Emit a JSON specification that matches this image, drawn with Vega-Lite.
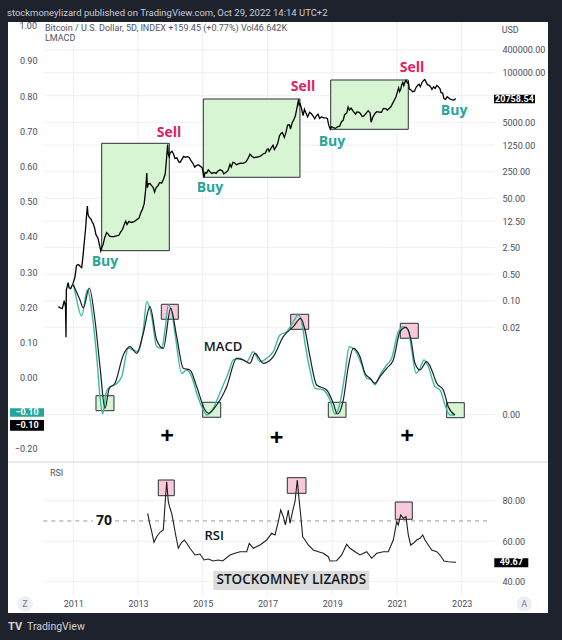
{
"$schema": "https://vega.github.io/schema/vega-lite/v6.json",
"width": 540, "height": 591,
"autosize": {"type": "none"},
"padding": {"left": 8, "top": 22, "right": 14, "bottom": 27},
"background": "#1e222d",
"config": {"view": {"fill": "#ffffff", "stroke": null}, "font": "Roboto"},
"datasets": {
"price": [
{"t":2010.54,"p":0.07},{"t":2010.60,"p":0.065},{"t":2010.66,"p":0.062},{"t":2010.72,"p":0.1},{"t":2010.76,"p":0.07},{"t":2010.775,"p":0.011},{"t":2010.785,"p":0.19},{"t":2010.84,"p":0.3},{"t":2010.87,"p":0.22},{"t":2010.92,"p":0.21},{"t":2010.97,"p":0.26},
{"t":2011.00,"p":0.30},{"t":2011.05,"p":0.42},{"t":2011.10,"p":0.85},{"t":2011.16,"p":0.90},{"t":2011.22,"p":0.80},{"t":2011.26,"p":0.75},{"t":2011.30,"p":1.5},{"t":2011.34,"p":3.5},{"t":2011.38,"p":8},{"t":2011.41,"p":18},{"t":2011.435,"p":31},{"t":2011.45,"p":20},{"t":2011.47,"p":17},{"t":2011.50,"p":15.5},{"t":2011.55,"p":14},{"t":2011.58,"p":12},{"t":2011.62,"p":10.5},{"t":2011.66,"p":8.2},{"t":2011.70,"p":5.5},{"t":2011.76,"p":4.5},{"t":2011.80,"p":3.2},{"t":2011.85,"p":2.05},{"t":2011.88,"p":2.5},{"t":2011.92,"p":3.0},{"t":2011.97,"p":4.6},
{"t":2012.03,"p":6.2},{"t":2012.08,"p":5.7},{"t":2012.12,"p":5.0},{"t":2012.18,"p":4.9},{"t":2012.25,"p":4.9},{"t":2012.33,"p":5.1},{"t":2012.41,"p":5.3},{"t":2012.46,"p":6.4},{"t":2012.52,"p":7.5},{"t":2012.58,"p":10.5},{"t":2012.62,"p":12.5},{"t":2012.66,"p":10.2},{"t":2012.72,"p":12.3},{"t":2012.80,"p":11.5},{"t":2012.88,"p":12.1},{"t":2012.95,"p":13.4},
{"t":2013.03,"p":15},{"t":2013.08,"p":20},{"t":2013.14,"p":26},{"t":2013.19,"p":36},{"t":2013.24,"p":90},{"t":2013.27,"p":230},{"t":2013.29,"p":95},{"t":2013.32,"p":120},{"t":2013.37,"p":122},{"t":2013.42,"p":108},{"t":2013.47,"p":95},{"t":2013.51,"p":72},{"t":2013.56,"p":95},{"t":2013.61,"p":105},{"t":2013.67,"p":130},{"t":2013.73,"p":125},{"t":2013.79,"p":160},{"t":2013.84,"p":220},{"t":2013.88,"p":550},{"t":2013.915,"p":1300},{"t":2013.935,"p":720},{"t":2013.96,"p":620},{"t":2013.99,"p":780},
{"t":2014.05,"p":860},{"t":2014.10,"p":720},{"t":2014.14,"p":560},{"t":2014.20,"p":580},{"t":2014.26,"p":450},{"t":2014.30,"p":440},{"t":2014.35,"p":520},{"t":2014.41,"p":630},{"t":2014.46,"p":600},{"t":2014.52,"p":620},{"t":2014.58,"p":590},{"t":2014.64,"p":480},{"t":2014.70,"p":410},{"t":2014.75,"p":330},{"t":2014.80,"p":360},{"t":2014.86,"p":380},{"t":2014.92,"p":350},{"t":2014.98,"p":320},
{"t":2015.04,"p":178},{"t":2015.07,"p":240},{"t":2015.12,"p":230},{"t":2015.17,"p":280},{"t":2015.22,"p":250},{"t":2015.28,"p":225},{"t":2015.35,"p":240},{"t":2015.41,"p":225},{"t":2015.47,"p":260},{"t":2015.54,"p":280},{"t":2015.60,"p":265},{"t":2015.65,"p":220},{"t":2015.72,"p":240},{"t":2015.78,"p":270},{"t":2015.84,"p":390},{"t":2015.88,"p":330},{"t":2015.93,"p":440},{"t":2015.98,"p":430},
{"t":2016.04,"p":380},{"t":2016.10,"p":400},{"t":2016.16,"p":420},{"t":2016.24,"p":415},{"t":2016.33,"p":450},{"t":2016.40,"p":560},{"t":2016.46,"p":720},{"t":2016.51,"p":650},{"t":2016.58,"p":580},{"t":2016.64,"p":600},{"t":2016.72,"p":610},{"t":2016.79,"p":650},{"t":2016.86,"p":730},{"t":2016.93,"p":770},{"t":2016.99,"p":980},
{"t":2017.02,"p":1000},{"t":2017.05,"p":850},{"t":2017.11,"p":1050},{"t":2017.17,"p":1250},{"t":2017.21,"p":960},{"t":2017.25,"p":1080},{"t":2017.31,"p":1350},{"t":2017.37,"p":2200},{"t":2017.41,"p":2500},{"t":2017.46,"p":2700},{"t":2017.52,"p":2000},{"t":2017.57,"p":2700},{"t":2017.62,"p":4200},{"t":2017.68,"p":4300},{"t":2017.71,"p":3300},{"t":2017.76,"p":4800},{"t":2017.82,"p":6100},{"t":2017.86,"p":7300},{"t":2017.90,"p":11000},{"t":2017.96,"p":20000},{"t":2017.98,"p":14000},
{"t":2018.01,"p":15000},{"t":2018.05,"p":11500},{"t":2018.10,"p":7500},{"t":2018.14,"p":11000},{"t":2018.18,"p":9000},{"t":2018.24,"p":6900},{"t":2018.30,"p":9200},{"t":2018.35,"p":8500},{"t":2018.40,"p":7500},{"t":2018.46,"p":6200},{"t":2018.51,"p":7400},{"t":2018.56,"p":8200},{"t":2018.61,"p":6300},{"t":2018.67,"p":7000},{"t":2018.73,"p":6500},{"t":2018.79,"p":6500},{"t":2018.85,"p":6300},{"t":2018.89,"p":4200},{"t":2018.94,"p":3300},{"t":2018.98,"p":3800},
{"t":2019.03,"p":3600},{"t":2019.10,"p":3450},{"t":2019.16,"p":3800},{"t":2019.23,"p":3950},{"t":2019.28,"p":5100},{"t":2019.34,"p":5700},{"t":2019.38,"p":7900},{"t":2019.45,"p":8800},{"t":2019.49,"p":12500},{"t":2019.53,"p":10500},{"t":2019.58,"p":11800},{"t":2019.65,"p":9700},{"t":2019.72,"p":8200},{"t":2019.76,"p":9300},{"t":2019.82,"p":9200},{"t":2019.87,"p":8500},{"t":2019.93,"p":7100},{"t":2019.97,"p":7200},
{"t":2020.03,"p":8300},{"t":2020.11,"p":10100},{"t":2020.17,"p":8800},{"t":2020.20,"p":5000},{"t":2020.25,"p":6800},{"t":2020.33,"p":8800},{"t":2020.38,"p":9500},{"t":2020.45,"p":9300},{"t":2020.52,"p":9200},{"t":2020.58,"p":11600},{"t":2020.65,"p":11500},{"t":2020.70,"p":10500},{"t":2020.76,"p":11500},{"t":2020.82,"p":13100},{"t":2020.87,"p":16000},{"t":2020.92,"p":19300},{"t":2020.97,"p":23500},
{"t":2021.02,"p":33000},{"t":2021.05,"p":40000},{"t":2021.08,"p":32000},{"t":2021.12,"p":38000},{"t":2021.14,"p":47000},{"t":2021.18,"p":56000},{"t":2021.21,"p":46000},{"t":2021.25,"p":58000},{"t":2021.28,"p":63500},{"t":2021.32,"p":55000},{"t":2021.35,"p":57000},{"t":2021.38,"p":38000},{"t":2021.44,"p":35000},{"t":2021.48,"p":32000},{"t":2021.54,"p":33000},{"t":2021.58,"p":40000},{"t":2021.64,"p":47000},{"t":2021.68,"p":50000},{"t":2021.72,"p":43000},{"t":2021.77,"p":55000},{"t":2021.82,"p":63000},{"t":2021.86,"p":67000},{"t":2021.90,"p":57000},{"t":2021.94,"p":49000},
{"t":2022.00,"p":47000},{"t":2022.05,"p":41000},{"t":2022.08,"p":36500},{"t":2022.13,"p":43000},{"t":2022.18,"p":39000},{"t":2022.23,"p":46500},{"t":2022.27,"p":44000},{"t":2022.33,"p":38000},{"t":2022.36,"p":30000},{"t":2022.41,"p":29500},{"t":2022.45,"p":21000},{"t":2022.50,"p":20000},{"t":2022.55,"p":23500},{"t":2022.61,"p":21500},{"t":2022.66,"p":20000},{"t":2022.71,"p":19400},{"t":2022.76,"p":19300},{"t":2022.80,"p":20700},{"t":2022.82,"p":20758.54}
],
"macdTeal": [
{"t":2011.000,"m":0.2683},{"t":2011.053,"m":0.2444},{"t":2011.260,"m":0.1753},{"t":2011.432,"m":0.2492},{"t":2011.618,"m":0.1546},{"t":2011.723,"m":0.0597},{"t":2011.825,"m":-0.0540},{"t":2011.908,"m":-0.1032},{"t":2012.010,"m":-0.0443},{"t":2012.134,"m":-0.0256},{"t":2012.288,"m":-0.0207},{"t":2012.495,"m":0.0028},{"t":2012.699,"m":0.0835},{"t":2012.854,"m":0.0787},{"t":2013.008,"m":0.0739},{"t":2013.163,"m":0.1355},{"t":2013.268,"m":0.2160},{"t":2013.422,"m":0.1733},{"t":2013.576,"m":0.0881},{"t":2013.731,"m":0.0835},{"t":2013.833,"m":0.1355},{"t":2013.935,"m":0.2066},{"t":2014.040,"m":0.1876},{"t":2014.142,"m":0.1262},{"t":2014.349,"m":0.0125},{"t":2014.503,"m":0.0219},{"t":2014.658,"m":0.0028},{"t":2014.812,"m":-0.0443},{"t":2015.016,"m":-0.0918},{"t":2015.121,"m":-0.1060},{"t":2015.325,"m":-0.0870},{"t":2015.480,"m":-0.0540},{"t":2015.634,"m":-0.0207},{"t":2015.788,"m":0.0125},{"t":2015.943,"m":0.0503},{"t":2016.150,"m":0.0551},{"t":2016.357,"m":0.0455},{"t":2016.561,"m":0.0739},{"t":2016.768,"m":0.0455},{"t":2016.975,"m":0.0551},{"t":2017.179,"m":0.0739},{"t":2017.386,"m":0.1213},{"t":2017.593,"m":0.1307},{"t":2017.796,"m":0.1591},{"t":2017.951,"m":0.1782},{"t":2018.056,"m":0.1591},{"t":2018.158,"m":0.0978},{"t":2018.312,"m":0.0219},{"t":2018.467,"m":-0.0301},{"t":2018.723,"m":-0.0350},{"t":2018.930,"m":-0.0634},{"t":2019.085,"m":-0.1032},{"t":2019.239,"m":-0.0727},{"t":2019.394,"m":0.0125},{"t":2019.527,"m":0.0881},{"t":2019.703,"m":0.0787},{"t":2019.910,"m":0.0361},{"t":2020.064,"m":-0.0017},{"t":2020.218,"m":-0.0065},{"t":2020.320,"m":-0.0207},{"t":2020.475,"m":0.0077},{"t":2020.682,"m":0.0361},{"t":2020.836,"m":0.0551},{"t":2021.040,"m":0.1307},{"t":2021.216,"m":0.1449},{"t":2021.349,"m":0.1355},{"t":2021.454,"m":0.0787},{"t":2021.587,"m":0.0125},{"t":2021.711,"m":0.0267},{"t":2021.834,"m":0.0503},{"t":2021.967,"m":0.0313},{"t":2022.174,"m":-0.0256},{"t":2022.329,"m":-0.0350},{"t":2022.483,"m":-0.0776},{"t":2022.638,"m":-0.1060},{"t":2022.792,"m":-0.1060}
],
"macdBlack": [
{"t":2011.000,"m":0.2634},{"t":2011.207,"m":0.2208},{"t":2011.309,"m":0.1981},{"t":2011.494,"m":0.2549},{"t":2011.670,"m":0.1640},{"t":2011.825,"m":0.0313},{"t":2011.979,"m":-0.0870},{"t":2012.112,"m":-0.0301},{"t":2012.288,"m":-0.0159},{"t":2012.545,"m":0.0645},{"t":2012.752,"m":0.0881},{"t":2012.959,"m":0.0693},{"t":2013.163,"m":0.1262},{"t":2013.369,"m":0.2018},{"t":2013.576,"m":0.1071},{"t":2013.780,"m":0.0835},{"t":2014.009,"m":0.1972},{"t":2014.194,"m":0.1165},{"t":2014.398,"m":0.0267},{"t":2014.605,"m":0.0219},{"t":2014.812,"m":-0.0256},{"t":2015.069,"m":-0.0918},{"t":2015.171,"m":-0.1012},{"t":2015.430,"m":-0.0776},{"t":2015.739,"m":-0.0256},{"t":2016.048,"m":0.0551},{"t":2016.252,"m":0.0503},{"t":2016.459,"m":0.0409},{"t":2016.613,"m":0.0693},{"t":2016.870,"m":0.0409},{"t":2017.179,"m":0.0597},{"t":2017.487,"m":0.1165},{"t":2017.796,"m":0.1449},{"t":2018.025,"m":0.1688},{"t":2018.158,"m":0.1355},{"t":2018.312,"m":0.0597},{"t":2018.519,"m":-0.0207},{"t":2018.828,"m":-0.0350},{"t":2019.032,"m":-0.0727},{"t":2019.156,"m":-0.1032},{"t":2019.341,"m":-0.0634},{"t":2019.496,"m":0.0313},{"t":2019.650,"m":0.0835},{"t":2019.857,"m":0.0597},{"t":2020.011,"m":0.0125},{"t":2020.166,"m":-0.0017},{"t":2020.320,"m":-0.0159},{"t":2020.475,"m":0.0028},{"t":2020.682,"m":0.0267},{"t":2020.886,"m":0.0503},{"t":2021.093,"m":0.1307},{"t":2021.278,"m":0.1432},{"t":2021.423,"m":0.1120},{"t":2021.556,"m":0.0409},{"t":2021.711,"m":0.0219},{"t":2021.917,"m":0.0455},{"t":2022.072,"m":0.0219},{"t":2022.227,"m":-0.0159},{"t":2022.430,"m":-0.0350},{"t":2022.585,"m":-0.0824},{"t":2022.792,"m":-0.1060}
],
"rsi": [
{"t":2013.298,"r":73.78},{"t":2013.348,"r":69.63},{"t":2013.422,"r":64.69},{"t":2013.493,"r":59.46},{"t":2013.576,"r":62.22},{"t":2013.678,"r":64.40},{"t":2013.780,"r":65.53},{"t":2013.855,"r":82.81},{"t":2013.885,"r":89.38},{"t":2013.935,"r":79.51},{"t":2013.987,"r":76.25},{"t":2014.040,"r":73.78},{"t":2014.089,"r":69.63},{"t":2014.163,"r":63.06},{"t":2014.244,"r":56.49},{"t":2014.349,"r":59.46},{"t":2014.429,"r":60.59},{"t":2014.503,"r":58.96},{"t":2014.605,"r":56.49},{"t":2014.760,"r":53.19},{"t":2014.914,"r":53.68},{"t":2015.038,"r":50.72},{"t":2015.171,"r":51.21},{"t":2015.325,"r":50.22},{"t":2015.480,"r":50.72},{"t":2015.615,"r":50.22},{"t":2015.841,"r":53.19},{"t":2015.995,"r":54.02},{"t":2016.150,"r":54.81},{"t":2016.357,"r":54.81},{"t":2016.437,"r":58.96},{"t":2016.561,"r":56.49},{"t":2016.768,"r":58.12},{"t":2016.975,"r":60.59},{"t":2017.129,"r":63.90},{"t":2017.231,"r":63.06},{"t":2017.333,"r":69.63},{"t":2017.407,"r":75.41},{"t":2017.487,"r":72.10},{"t":2017.555,"r":68.00},{"t":2017.642,"r":75.41},{"t":2017.694,"r":68.84},{"t":2017.796,"r":76.25},{"t":2017.849,"r":79.51},{"t":2017.920,"r":90.22},{"t":2017.972,"r":81.19},{"t":2018.025,"r":72.94},{"t":2018.087,"r":62.22},{"t":2018.158,"r":60.59},{"t":2018.260,"r":58.12},{"t":2018.414,"r":55.65},{"t":2018.569,"r":54.81},{"t":2018.723,"r":54.02},{"t":2018.878,"r":52.35},{"t":2018.930,"r":50.22},{"t":2019.137,"r":50.37},{"t":2019.292,"r":53.19},{"t":2019.446,"r":58.47},{"t":2019.548,"r":56.49},{"t":2019.703,"r":54.81},{"t":2019.857,"r":53.19},{"t":2020.064,"r":54.81},{"t":2020.218,"r":51.56},{"t":2020.373,"r":54.02},{"t":2020.577,"r":54.81},{"t":2020.731,"r":54.81},{"t":2020.886,"r":60.59},{"t":2020.991,"r":69.63},{"t":2021.040,"r":68.00},{"t":2021.114,"r":72.94},{"t":2021.195,"r":71.31},{"t":2021.278,"r":72.10},{"t":2021.349,"r":63.06},{"t":2021.423,"r":58.12},{"t":2021.504,"r":58.96},{"t":2021.609,"r":60.59},{"t":2021.711,"r":61.43},{"t":2021.794,"r":63.06},{"t":2021.865,"r":60.59},{"t":2021.967,"r":58.12},{"t":2022.072,"r":55.65},{"t":2022.227,"r":54.81},{"t":2022.329,"r":53.19},{"t":2022.452,"r":50.22},{"t":2022.585,"r":49.88},{"t":2022.792,"r":49.58},{"t":2022.820,"r":49.67}
],
"bigBoxes": [
{"t1":2011.877,"t2":2013.966,"p1":1397,"p2":2.08},
{"t1":2015.016,"t2":2018.003,"p1":20500,"p2":178},
{"t1":2018.952,"t2":2021.349,"p1":64900,"p2":3266}
],
"greenBoxes": [
{"t1":2011.701,"t2":2012.257,"m1":-0.0512,"m2":-0.0938},
{"t1":2014.998,"t2":2015.554,"m1":-0.0699,"m2":-0.1125},
{"t1":2018.878,"t2":2019.425,"m1":-0.0699,"m2":-0.1125},
{"t1":2022.535,"t2":2023.079,"m1":-0.0710,"m2":-0.1137}
],
"pinkBoxes": [
{"t1":2013.719,"t2":2014.244,"m1":0.2086,"m2":0.1660},
{"t1":2017.716,"t2":2018.272,"m1":0.1802,"m2":0.1375},
{"t1":2021.102,"t2":2021.658,"m1":0.1546,"m2":0.1120}
],
"rsiBoxes": [
{"t1":2013.626,"t2":2014.120,"r1":90.22,"r2":82.47},
{"t1":2017.611,"t2":2018.189,"r1":91.36,"r2":83.65},
{"t1":2020.947,"t2":2021.473,"r1":79.36,"r2":70.81}
],
"buys": [
{"t":2011.979,"m":0.3288,"label":"Buy"},{"t":2015.223,"m":0.5391,"label":"Buy"},{"t":2018.992,"m":0.6698,"label":"Buy"},{"t":2022.763,"m":0.7579,"label":"Buy"}
],
"sells": [
{"t":2013.956,"m":0.6954,"label":"Sell"},{"t":2018.096,"m":0.8261,"label":"Sell"},{"t":2021.464,"m":0.8801,"label":"Sell"}
],
"pluses": [
{"t":2013.895,"m":-0.1677,"label":"+"},{"t":2017.284,"m":-0.1742,"label":"+"},{"t":2021.309,"m":-0.1685,"label":"+"}
],
"years": [{"t":2011},{"t":2013},{"t":2015},{"t":2017},{"t":2019},{"t":2021},{"t":2023}],
"priceTicks": [{"p":400000},{"p":100000},{"p":25000},{"p":5000},{"p":1250},{"p":250},{"p":50},{"p":12.5},{"p":2.5},{"p":0.5},{"p":0.1},{"p":0.02},{"p":0.0001}],
"rsiTicks": [{"r":80},{"r":60},{"r":40}],
"dash70": [{"t1":2010.073,"t2":2011.609,"r":70},{"t1":2012.288,"t2":2023.873,"r":70}]
},
"resolve": {"scale": {"y": "independent"}, "axis": {"y": "independent"}},
"layer": [
{
"layer": [
{"data": {"name": "years"}, "mark": {"type": "rule", "color": "#eceff4", "strokeWidth": 1},
 "encoding": {"x": {"field": "t", "type": "quantitative", "scale": {"domain": [2008.983, 2025.665], "nice": false, "zero": false}},
  "y": {"datum": 2182700, "type": "quantitative", "scale": {"type": "log", "domain": [6.01e-10, 2182700], "nice": false}},
  "y2": {"datum": 1.79e-9}}},
{"data": {"name": "priceTicks"}, "mark": {"type": "rule", "color": "#eceff4", "strokeWidth": 1},
 "encoding": {"y": {"field": "p", "type": "quantitative", "scale": {"type": "log", "domain": [6.01e-10, 2182700], "nice": false},
   "axis": {"orient": "right", "values": [400000, 100000, 5000, 1250, 250, 50, 12.5, 2.5, 0.5, 0.1, 0.02, 0.0001], "format": ".2f", "offset": -46, "zindex": 1, "ticks": false, "domain": false, "grid": false, "labelPadding": 0, "labelFontSize": 9, "labelFont": "Roboto", "labelColor": "#4a4e59", "labelOverlap": false, "labelBaseline": "middle", "title": null}},
  "x": {"datum": 2010.095, "type": "quantitative", "scale": {"domain": [2008.983, 2025.665], "nice": false, "zero": false}},
  "x2": {"datum": 2024.028}}},
{"data": {"name": "bigBoxes"}, "mark": {"type": "rect", "fill": "#d7f5d3", "stroke": "#2a2e39", "strokeWidth": 1},
 "encoding": {"x": {"field": "t1", "type": "quantitative", "scale": {"domain": [2008.983, 2025.665], "nice": false, "zero": false}}, "x2": {"field": "t2"},
  "y": {"field": "p1", "type": "quantitative", "scale": {"type": "log", "domain": [6.01e-10, 2182700], "nice": false}}, "y2": {"field": "p2"}}},
{"data": {"name": "price"}, "mark": {"type": "line", "color": "#000000", "strokeWidth": 1.3},
 "encoding": {"x": {"field": "t", "type": "quantitative", "scale": {"domain": [2008.983, 2025.665], "nice": false, "zero": false},
   "axis": {"orient": "bottom", "values": [2011, 2013, 2015, 2017, 2019, 2021, 2023], "format": "d", "offset": -14, "zindex": 1, "ticks": false, "domain": false, "grid": false, "labelPadding": 0, "labelFontSize": 9, "labelFont": "Roboto", "labelColor": "#4a4e59", "labelFlush": false, "labelOverlap": false, "title": null}},
  "y": {"field": "p", "type": "quantitative", "scale": {"type": "log", "domain": [6.01e-10, 2182700], "nice": false}}}},
{"data": {"values": [{"t1": 2023.998, "t2": 2025.264, "p1": 26600, "p2": 15800}]}, "mark": {"type": "rect", "fill": "#000000"},
 "encoding": {"x": {"field": "t1", "type": "quantitative", "scale": {"domain": [2008.983, 2025.665], "nice": false, "zero": false}}, "x2": {"field": "t2"},
  "y": {"field": "p1", "type": "quantitative", "scale": {"type": "log", "domain": [6.01e-10, 2182700], "nice": false}}, "y2": {"field": "p2"}}},
{"data": {"values": [{"t": 2024.63, "p": 20758.54, "label": "20758.54"}]}, "mark": {"type": "text", "color": "#ffffff", "fontSize": 9, "fontWeight": "bold", "font": "Roboto", "baseline": "middle"},
 "encoding": {"x": {"field": "t", "type": "quantitative", "scale": {"domain": [2008.983, 2025.665], "nice": false, "zero": false}},
  "y": {"field": "p", "type": "quantitative", "scale": {"type": "log", "domain": [6.01e-10, 2182700], "nice": false}}, "text": {"field": "label"}}}
]
},
{
"layer": [
{"data": {"name": "greenBoxes"}, "mark": {"type": "rect", "fill": "#d7f5d3", "stroke": "#2a2e39", "strokeWidth": 1},
 "encoding": {"x": {"field": "t1", "type": "quantitative", "scale": {"domain": [2008.983, 2025.665], "nice": false, "zero": false}}, "x2": {"field": "t2"},
  "y": {"field": "m1", "type": "quantitative", "scale": {"domain": [-0.6687, 1.0108], "nice": false, "zero": false},
   "axis": {"orient": "left", "values": [0.9, 0.8, 0.7, 0.6, 0.5, 0.4, 0.3, 0.2, 0.1, 0, -0.2], "format": ".2f", "offset": -29, "zindex": 1, "ticks": false, "domain": false, "grid": false, "labelPadding": 0, "labelFontSize": 9, "labelFont": "Roboto", "labelColor": "#4a4e59", "labelOverlap": false, "labelBaseline": "middle", "title": null}},
  "y2": {"field": "m2"}}},
{"data": {"name": "pinkBoxes"}, "mark": {"type": "rect", "fill": "#f8c9d9", "stroke": "#2a2e39", "strokeWidth": 1},
 "encoding": {"x": {"field": "t1", "type": "quantitative", "scale": {"domain": [2008.983, 2025.665], "nice": false, "zero": false}}, "x2": {"field": "t2"},
  "y": {"field": "m1", "type": "quantitative", "scale": {"domain": [-0.6687, 1.0108], "nice": false, "zero": false}}, "y2": {"field": "m2"}}},
{"data": {"name": "macdTeal"}, "mark": {"type": "line", "color": "#3fb8a4", "strokeWidth": 1.4, "interpolate": "monotone"},
 "encoding": {"x": {"field": "t", "type": "quantitative", "scale": {"domain": [2008.983, 2025.665], "nice": false, "zero": false}},
  "y": {"field": "m", "type": "quantitative", "scale": {"domain": [-0.6687, 1.0108], "nice": false, "zero": false}}}},
{"data": {"name": "macdBlack"}, "mark": {"type": "line", "color": "#1e1e1e", "strokeWidth": 1.2, "interpolate": "monotone"},
 "encoding": {"x": {"field": "t", "type": "quantitative", "scale": {"domain": [2008.983, 2025.665], "nice": false, "zero": false}},
  "y": {"field": "m", "type": "quantitative", "scale": {"domain": [-0.6687, 1.0108], "nice": false, "zero": false}}}},
{"data": {"name": "buys"}, "mark": {"type": "text", "color": "#26a69a", "fontSize": 14, "fontWeight": "bold", "font": "Open Sans", "baseline": "middle"},
 "encoding": {"x": {"field": "t", "type": "quantitative", "scale": {"domain": [2008.983, 2025.665], "nice": false, "zero": false}},
  "y": {"field": "m", "type": "quantitative", "scale": {"domain": [-0.6687, 1.0108], "nice": false, "zero": false}}, "text": {"field": "label"}}},
{"data": {"name": "sells"}, "mark": {"type": "text", "color": "#e0215f", "fontSize": 14, "fontWeight": "bold", "font": "Open Sans", "baseline": "middle"},
 "encoding": {"x": {"field": "t", "type": "quantitative", "scale": {"domain": [2008.983, 2025.665], "nice": false, "zero": false}},
  "y": {"field": "m", "type": "quantitative", "scale": {"domain": [-0.6687, 1.0108], "nice": false, "zero": false}}, "text": {"field": "label"}}},
{"data": {"name": "pluses"}, "mark": {"type": "text", "color": "#000000", "fontSize": 24, "fontWeight": "bold", "font": "Open Sans", "baseline": "middle"},
 "encoding": {"x": {"field": "t", "type": "quantitative", "scale": {"domain": [2008.983, 2025.665], "nice": false, "zero": false}},
  "y": {"field": "m", "type": "quantitative", "scale": {"domain": [-0.6687, 1.0108], "nice": false, "zero": false}}, "text": {"field": "label"}}},
{"data": {"values": [{"t": 2015.625, "m": 0.0881, "label": "MACD"}]}, "mark": {"type": "text", "color": "#131722", "fontSize": 13, "fontWeight": 600, "font": "Open Sans", "baseline": "middle"},
 "encoding": {"x": {"field": "t", "type": "quantitative", "scale": {"domain": [2008.983, 2025.665], "nice": false, "zero": false}},
  "y": {"field": "m", "type": "quantitative", "scale": {"domain": [-0.6687, 1.0108], "nice": false, "zero": false}}, "text": {"field": "label"}}},
{"data": {"values": [{"t": 2010.126, "m": 0.9929, "label": "Bitcoin / U.S. Dollar, 5D, INDEX  +159.45 (+0.77%)  Vol46.642K"}, {"t": 2010.126, "m": 0.9645, "label": "LMACD"}, {"t": 2024.234, "m": 0.988, "label": "USD"}]}, "mark": {"type": "text", "color": "#50535e", "fontSize": 9, "font": "Roboto", "align": "left", "baseline": "middle"},
 "encoding": {"x": {"field": "t", "type": "quantitative", "scale": {"domain": [2008.983, 2025.665], "nice": false, "zero": false}},
  "y": {"field": "m", "type": "quantitative", "scale": {"domain": [-0.6687, 1.0108], "nice": false, "zero": false}}, "text": {"field": "label"}}},
{"data": {"values": [{"t": 2009.879, "m": 1.0, "label": "1.00"}]}, "mark": {"type": "text", "color": "#4a4e59", "fontSize": 9, "font": "Roboto", "align": "right", "baseline": "middle"},
 "encoding": {"x": {"field": "t", "type": "quantitative", "scale": {"domain": [2008.983, 2025.665], "nice": false, "zero": false}},
  "y": {"field": "m", "type": "quantitative", "scale": {"domain": [-0.6687, 1.0108], "nice": false, "zero": false}}, "text": {"field": "label"}}},
{"data": {"values": [{"t": 2008.952, "m": 1.0364, "label": "stockmoneylizard published on TradingView.com, Oct 29, 2022 14:14 UTC+2"}]}, "mark": {"type": "text", "color": "#c8cbd3", "fontSize": 9.5, "font": "Roboto", "align": "left", "baseline": "middle"},
 "encoding": {"x": {"field": "t", "type": "quantitative", "scale": {"domain": [2008.983, 2025.665], "nice": false, "zero": false}},
  "y": {"field": "m", "type": "quantitative", "scale": {"domain": [-0.6687, 1.0108], "nice": false, "zero": false}}, "text": {"field": "label"}}},
{"data": {"values": [{"t1": 2009.045, "t2": 2010.095, "m1": -0.0870, "m2": -0.1108, "c": "teal"}, {"t1": 2009.045, "t2": 2010.095, "m1": -0.1202, "m2": -0.1506, "c": "black"}]},
 "mark": {"type": "rect"},
 "encoding": {"x": {"field": "t1", "type": "quantitative", "scale": {"domain": [2008.983, 2025.665], "nice": false, "zero": false}}, "x2": {"field": "t2"},
  "y": {"field": "m1", "type": "quantitative", "scale": {"domain": [-0.6687, 1.0108], "nice": false, "zero": false}}, "y2": {"field": "m2"},
  "color": {"field": "c", "type": "nominal", "scale": {"domain": ["teal", "black"], "range": ["#26a69a", "#000000"]}, "legend": null}}},
{"data": {"values": [{"t": 2009.57, "m": -0.0989, "label": "−0.10"}, {"t": 2009.57, "m": -0.1353, "label": "−0.10"}]}, "mark": {"type": "text", "color": "#ffffff", "fontSize": 9, "fontWeight": "bold", "font": "Roboto", "baseline": "middle"},
 "encoding": {"x": {"field": "t", "type": "quantitative", "scale": {"domain": [2008.983, 2025.665], "nice": false, "zero": false}},
  "y": {"field": "m", "type": "quantitative", "scale": {"domain": [-0.6687, 1.0108], "nice": false, "zero": false}}, "text": {"field": "label"}}}
]
},
{
"layer": [
{"data": {"values": [{"r": 99.11}]}, "mark": {"type": "rule", "color": "#e0e3eb", "strokeWidth": 1.5},
 "encoding": {"y": {"field": "r", "type": "quantitative", "scale": {"domain": [24.54, 316.4], "nice": false, "zero": false}}}},
{"data": {"name": "rsiTicks"}, "mark": {"type": "rule", "color": "#eceff4", "strokeWidth": 1},
 "encoding": {"y": {"field": "r", "type": "quantitative", "scale": {"domain": [24.54, 316.4], "nice": false, "zero": false}},
  "x": {"datum": 2010.095, "type": "quantitative", "scale": {"domain": [2008.983, 2025.665], "nice": false, "zero": false}}, "x2": {"datum": 2024.028}}},
{"data": {"name": "dash70"}, "mark": {"type": "rule", "color": "#9598a1", "strokeWidth": 1, "strokeDash": [4, 4]},
 "encoding": {"x": {"field": "t1", "type": "quantitative", "scale": {"domain": [2008.983, 2025.665], "nice": false, "zero": false}}, "x2": {"field": "t2"},
  "y": {"field": "r", "type": "quantitative", "scale": {"domain": [24.54, 316.4], "nice": false, "zero": false}}}},
{"data": {"name": "rsiBoxes"}, "mark": {"type": "rect", "fill": "#f8c9d9", "stroke": "#2a2e39", "strokeWidth": 1},
 "encoding": {"x": {"field": "t1", "type": "quantitative", "scale": {"domain": [2008.983, 2025.665], "nice": false, "zero": false}}, "x2": {"field": "t2"},
  "y": {"field": "r1", "type": "quantitative", "scale": {"domain": [24.54, 316.4], "nice": false, "zero": false}}, "y2": {"field": "r2"}}},
{"data": {"name": "rsi"}, "mark": {"type": "line", "color": "#1e1e1e", "strokeWidth": 1.1},
 "encoding": {"x": {"field": "t", "type": "quantitative", "scale": {"domain": [2008.983, 2025.665], "nice": false, "zero": false}},
  "y": {"field": "r", "type": "quantitative", "scale": {"domain": [24.54, 316.4], "nice": false, "zero": false},
   "axis": {"orient": "right", "values": [80, 60, 40], "format": ".2f", "offset": -46, "zindex": 1, "ticks": false, "domain": false, "grid": false, "labelPadding": 0, "labelFontSize": 9, "labelFont": "Roboto", "labelColor": "#4a4e59", "labelOverlap": false, "labelBaseline": "middle", "title": null}}}},
{"data": {"values": [{"t1": 2015.324, "t2": 2020.144, "r1": 45.28, "r2": 35.90}]}, "mark": {"type": "rect", "fill": "#dcdcdc"},
 "encoding": {"x": {"field": "t1", "type": "quantitative", "scale": {"domain": [2008.983, 2025.665], "nice": false, "zero": false}}, "x2": {"field": "t2"},
  "y": {"field": "r1", "type": "quantitative", "scale": {"domain": [24.54, 316.4], "nice": false, "zero": false}}, "y2": {"field": "r2"}}},
{"data": {"values": [{"t": 2017.735, "r": 40.6, "label": "STOCKOMNEY LIZARDS"}]}, "mark": {"type": "text", "color": "#131722", "fontSize": 13.5, "fontWeight": 600, "font": "Open Sans", "baseline": "middle"},
 "encoding": {"x": {"field": "t", "type": "quantitative", "scale": {"domain": [2008.983, 2025.665], "nice": false, "zero": false}},
  "y": {"field": "r", "type": "quantitative", "scale": {"domain": [24.54, 316.4], "nice": false, "zero": false}}, "text": {"field": "label"}}},
{"data": {"values": [{"t": 2011.948, "r": 70.2, "label": "70"}]}, "mark": {"type": "text", "color": "#131722", "fontSize": 14, "fontWeight": "bold", "font": "Open Sans", "baseline": "middle"},
 "encoding": {"x": {"field": "t", "type": "quantitative", "scale": {"domain": [2008.983, 2025.665], "nice": false, "zero": false}},
  "y": {"field": "r", "type": "quantitative", "scale": {"domain": [24.54, 316.4], "nice": false, "zero": false}}, "text": {"field": "label"}}},
{"data": {"values": [{"t": 2015.354, "r": 62.57, "label": "RSI"}]}, "mark": {"type": "text", "color": "#131722", "fontSize": 13, "fontWeight": 600, "font": "Open Sans", "baseline": "middle"},
 "encoding": {"x": {"field": "t", "type": "quantitative", "scale": {"domain": [2008.983, 2025.665], "nice": false, "zero": false}},
  "y": {"field": "r", "type": "quantitative", "scale": {"domain": [24.54, 316.4], "nice": false, "zero": false}}, "text": {"field": "label"}}},
{"data": {"values": [{"t": 2010.28, "r": 93.83, "label": "RSI"}]}, "mark": {"type": "text", "color": "#50535e", "fontSize": 9, "font": "Roboto", "align": "left", "baseline": "middle"},
 "encoding": {"x": {"field": "t", "type": "quantitative", "scale": {"domain": [2008.983, 2025.665], "nice": false, "zero": false}},
  "y": {"field": "r", "type": "quantitative", "scale": {"domain": [24.54, 316.4], "nice": false, "zero": false}}, "text": {"field": "label"}}},
{"data": {"values": [{"t1": 2024.006, "t2": 2025.056, "r1": 51.56, "r2": 47.11}]}, "mark": {"type": "rect", "fill": "#000000"},
 "encoding": {"x": {"field": "t1", "type": "quantitative", "scale": {"domain": [2008.983, 2025.665], "nice": false, "zero": false}}, "x2": {"field": "t2"},
  "y": {"field": "r1", "type": "quantitative", "scale": {"domain": [24.54, 316.4], "nice": false, "zero": false}}, "y2": {"field": "r2"}}},
{"data": {"values": [{"t": 2024.531, "r": 49.67, "label": "49.67"}]}, "mark": {"type": "text", "color": "#ffffff", "fontSize": 9, "fontWeight": "bold", "font": "Roboto", "baseline": "middle"},
 "encoding": {"x": {"field": "t", "type": "quantitative", "scale": {"domain": [2008.983, 2025.665], "nice": false, "zero": false}},
  "y": {"field": "r", "type": "quantitative", "scale": {"domain": [24.54, 316.4], "nice": false, "zero": false}}, "text": {"field": "label"}}},
{"data": {"values": [{"t": 2009.508, "r": 28.99, "label": "Z"}, {"t": 2024.933, "r": 28.99, "label": "A"}]}, "mark": {"type": "point", "shape": "circle", "filled": true, "size": 240, "color": "#eceff4", "opacity": 1},
 "encoding": {"x": {"field": "t", "type": "quantitative", "scale": {"domain": [2008.983, 2025.665], "nice": false, "zero": false}},
  "y": {"field": "r", "type": "quantitative", "scale": {"domain": [24.54, 316.4], "nice": false, "zero": false}}}},
{"data": {"values": [{"t": 2009.508, "r": 28.99, "label": "Z"}, {"t": 2024.933, "r": 28.99, "label": "A"}]}, "mark": {"type": "text", "color": "#787b86", "fontSize": 9, "font": "Roboto", "baseline": "middle"},
 "encoding": {"x": {"field": "t", "type": "quantitative", "scale": {"domain": [2008.983, 2025.665], "nice": false, "zero": false}},
  "y": {"field": "r", "type": "quantitative", "scale": {"domain": [24.54, 316.4], "nice": false, "zero": false}}, "text": {"field": "label"}}},
{"data": {"values": [{"t": 2008.983, "r": 17.63, "label": "TV"}]}, "mark": {"type": "text", "color": "#d1d4dc", "fontSize": 11, "fontWeight": "bold", "font": "Roboto", "align": "left", "baseline": "middle"},
 "encoding": {"x": {"field": "t", "type": "quantitative", "scale": {"domain": [2008.983, 2025.665], "nice": false, "zero": false}},
  "y": {"field": "r", "type": "quantitative", "scale": {"domain": [24.54, 316.4], "nice": false, "zero": false}}, "text": {"field": "label"}}},
{"data": {"values": [{"t": 2009.57, "r": 17.63, "label": "TradingView"}]}, "mark": {"type": "text", "color": "#d1d4dc", "fontSize": 10.5, "font": "Roboto", "align": "left", "baseline": "middle"},
 "encoding": {"x": {"field": "t", "type": "quantitative", "scale": {"domain": [2008.983, 2025.665], "nice": false, "zero": false}},
  "y": {"field": "r", "type": "quantitative", "scale": {"domain": [24.54, 316.4], "nice": false, "zero": false}}, "text": {"field": "label"}}}
]
}
]
}
